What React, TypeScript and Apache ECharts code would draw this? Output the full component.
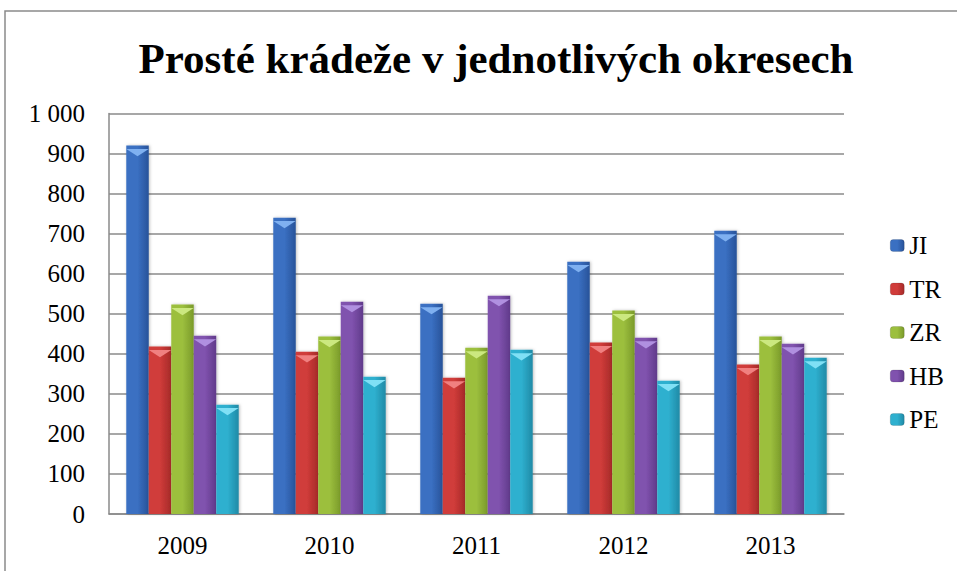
import React, { useEffect, useRef } from "react";
import * as echarts from "echarts";

const years = ["2009", "2010", "2011", "2012", "2013"];
const seriesNames = ["JI", "TR", "ZR", "HB", "PE"];
const JI = [920, 740, 525, 630, 707];
const TR = [418, 405, 340, 428, 373];
const ZR = [523, 443, 415, 508, 443];
const HB = [445, 530, 545, 440, 425];
const PE = [273, 343, 410, 333, 390];
const values = [JI, TR, ZR, HB, PE];
const colors = ["#3a70c2", "#d03c3a", "#9cbf3e", "#8052ae", "#2fb0cf"];
const darks = ["#285299", "#a52a28", "#7a9a2a", "#603a8a", "#1f8aa6"];
const lights = ["#7fb0f0", "#f08080", "#cbe880", "#b090e0", "#80e0f5"];

const FONT = "Times New Roman";

export default function App() {
  const ref = useRef<HTMLDivElement>(null);
  useEffect(() => {
    const chart = echarts.init(ref.current!, null, { renderer: "svg" });
    const plotW = 735;
    const barW = (plotW / 5) * 0.765 / 5;
    const series: any[] = [];
    values.forEach((v, i) => {
      series.push({
        name: seriesNames[i],
        type: "bar",
        data: v,
        barGap: "0%",
        barCategoryGap: "23.5%",
        itemStyle: {
          color: new echarts.graphic.LinearGradient(0, 0, 1, 0, [
            { offset: 0, color: colors[i] },
            { offset: 0.5, color: colors[i] },
            { offset: 1, color: darks[i] },
          ]),
          shadowColor: "rgba(0,0,0,0.25)",
          shadowBlur: 3,
          shadowOffsetX: 1,
        },
      });
    });
    values.forEach((v, i) => {
      series.push({
        name: seriesNames[i],
        type: "pictorialBar",
        data: v,
        symbol: "path://M0,0 L2,0 L1,1 Z",
        symbolSize: [barW, 7],
        symbolPosition: "end",
        symbolOffset: [`${(i - 2) * 100}%`, "50%"],
        itemStyle: { color: lights[i] },
        z: 5,
        silent: true,
      });
    });
    chart.setOption({
      animation: false,
      textStyle: { fontFamily: FONT },
      title: {
        text: "Prosté krádeže v jednotlivých okresech",
        left: 491,
        textAlign: "center",
        top: 32,
        textStyle: { fontFamily: FONT, fontSize: 43, fontWeight: "bold", color: "#000" },
      },
      graphic: [
        {
          type: "rect",
          shape: { x: 5, y: 11, width: 1000, height: 600 },
          style: { fill: "none", stroke: "#8a8a8a", lineWidth: 1.5 },
          silent: true,
        },
      ],
      legend: {
        orient: "vertical",
        left: 885,
        top: 228,
        itemGap: 18.5,
        itemWidth: 14,
        itemHeight: 12,
        itemStyle: {
          borderColor: "rgba(0,0,0,0.25)",
          borderWidth: 0.5,
        },
        data: seriesNames,
        textStyle: { fontFamily: FONT, fontSize: 25, color: "#000" },
      },
      grid: { left: 109, right: 113, top: 113.5, bottom: 57 },
      xAxis: {
        type: "category",
        data: years,
        axisLine: { lineStyle: { color: "#8a8a8a", width: 1.5 } },
        axisTick: { show: false },
        axisLabel: { fontFamily: FONT, fontSize: 25, color: "#000", margin: 19 },
      },
      yAxis: {
        type: "value",
        min: 0,
        max: 1000,
        interval: 100,
        axisLine: { show: true, lineStyle: { color: "#8a8a8a", width: 1.5 } },
        axisTick: { show: false },
        splitLine: { lineStyle: { color: "#8a8a8a", width: 1.5 } },
        axisLabel: {
          fontFamily: FONT,
          fontSize: 25,
          color: "#000",
          margin: 24,
          formatter: (v: number) => (v >= 1000 ? "1 000" : String(v)),
        },
      },
      series,
    });
    return () => chart.dispose();
  }, []);
  return (
    <div
      ref={ref}
      style={{ position: "fixed", left: 0, top: 0, width: 957, height: 571, background: "#fff" }}
    />
  );
}
